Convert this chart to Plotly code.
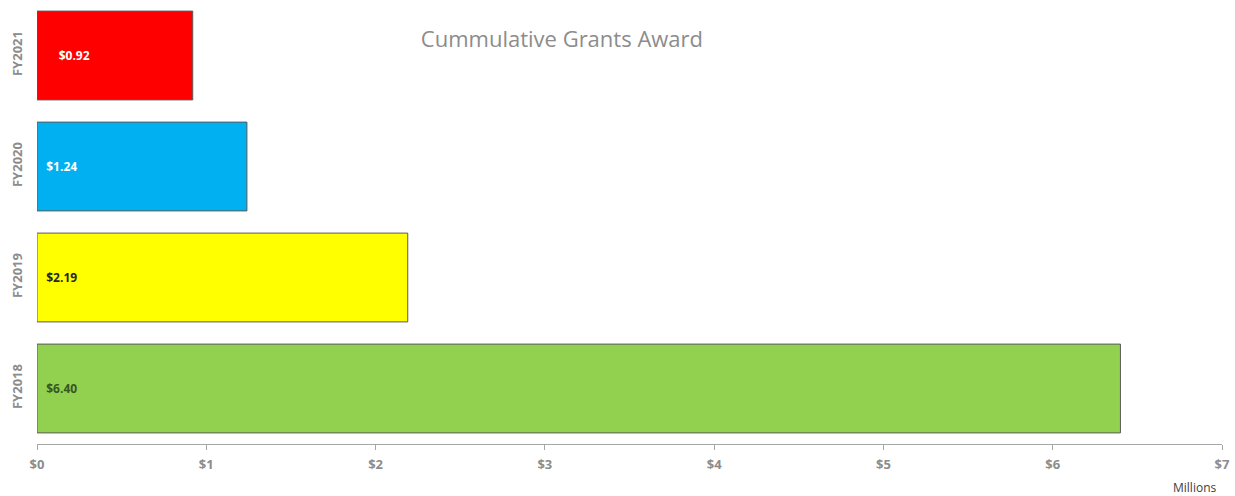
import plotly.graph_objects as go

categories = ["FY2018", "FY2019", "FY2020", "FY2021"]
values = [6.40, 2.19, 1.24, 0.92]
labels = ["$6.40", "$2.19", "$1.24", "$0.92"]
label_pad = ["\u00a0\u00a0", "\u00a0\u00a0", "\u00a0\u00a0", "\u00a0\u00a0\u00a0\u00a0\u00a0\u00a0"]
colors = ["#92d050", "#ffff00", "#00b0f0", "#ff0000"]
text_colors = ["#375623", "#262626", "#ffffff", "#ffffff"]
x_ticks = [0, 1, 2, 3, 4, 5, 6, 7]
x_tick_text = ["<b>$%d</b>" % v for v in x_ticks]

fig = go.Figure()
fig.add_trace(go.Bar(
    y=categories, x=values, orientation="h",
    marker=dict(color=colors, line=dict(color="#595959", width=1)),
    text=["%s<b>%s</b>" % (p, l) for p, l in zip(label_pad, labels)],
    textposition="inside", insidetextanchor="start",
    textfont=dict(family="Open Sans", size=12, color=text_colors),
    hoverinfo="skip",
))

fig.update_layout(
    width=1235, height=496,
    margin=dict(l=37, r=13, t=0, b=52),
    paper_bgcolor="white", plot_bgcolor="white",
    bargap=0.2, showlegend=False,
    title=dict(text="Cummulative Grants Award", x=0.455, xanchor="center", y=0.92, yanchor="middle",
               font=dict(family="Open Sans", size=22, color="#8c8c8c")),
    xaxis=dict(range=[0, 7], tickvals=x_ticks, ticktext=x_tick_text, showgrid=False, zeroline=False,
               showline=True, linecolor="#a6a6a6", linewidth=1,
               ticks="outside", ticklen=5, tickcolor="#a6a6a6", ticklabelstandoff=3,
               tickfont=dict(family="Open Sans", size=13, color="#8c8c8c")),
    yaxis=dict(categoryorder="array", categoryarray=categories,
               tickvals=categories, ticktext=["<b>%s</b>" % c for c in categories],
               showgrid=False, zeroline=False,
               showline=False, tickangle=-90, ticks="", ticklabelstandoff=11,
               tickfont=dict(family="Open Sans", size=13, color="#8c8c8c")),
    annotations=[dict(text="Millions", xref="paper", yref="paper", x=0.997, y=-0.097,
                      xanchor="right", yanchor="middle", showarrow=False,
                      font=dict(family="Open Sans", size=12, color="#404040"))],
)

fig.write_html("out.html")
